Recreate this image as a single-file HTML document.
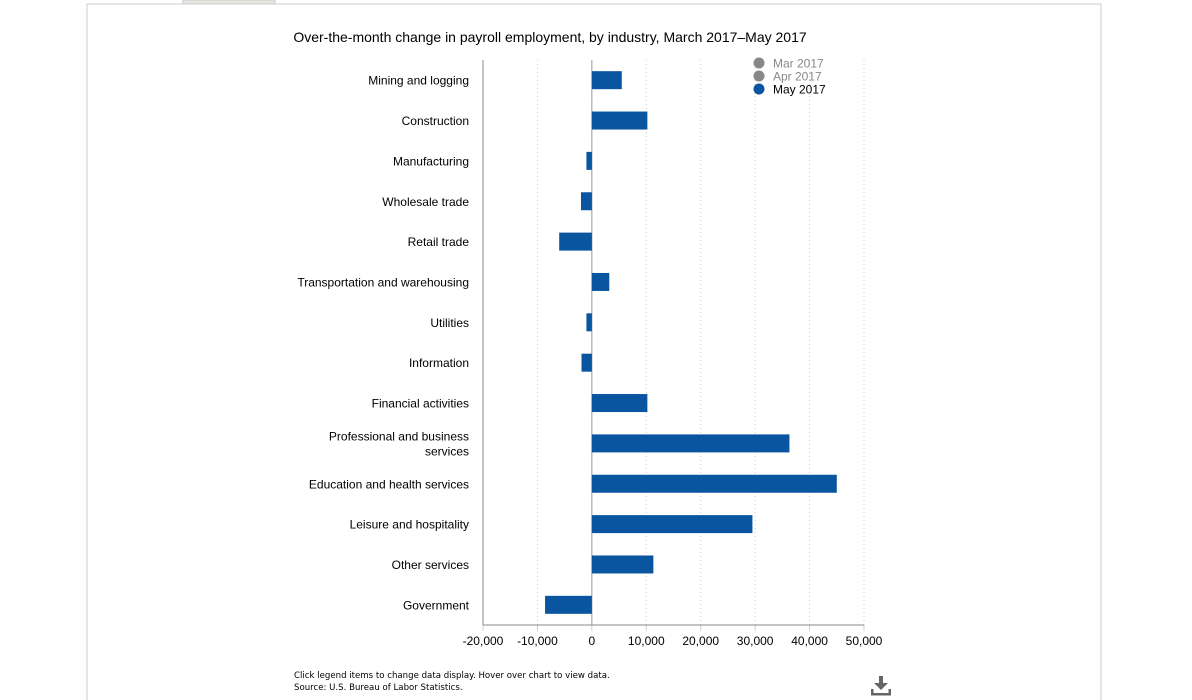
<!DOCTYPE html>
<html><head><meta charset="utf-8"><style>
body{margin:0;background:#fff;width:1192px;height:700px;overflow:hidden;font-family:"Liberation Sans",Arial,sans-serif;}
svg{position:absolute;left:0;top:0}
</style></head><body>
<svg width="1192" height="700">
<rect x="87" y="4" width="1014" height="720" fill="none" stroke="#ccc" stroke-width="1"/>
<rect x="183" y="0" width="92" height="4" fill="#e3e8e1" stroke="#ccc"/>
<text x="550" y="42" text-anchor="middle" font-size="14" fill="#000">Over-the-month change in payroll employment, by industry, March 2017–May 2017</text>
<g id="grid"></g><g id="bars"></g><g id="labels"></g><g id="ticks"></g>
<g>
<g><circle cx="759" cy="63" r="5.5" fill="#888"/><text x="773" y="67.5" font-size="12" fill="#888">Mar 2017</text></g>
<g><circle cx="759" cy="76" r="5.5" fill="#888"/><text x="773" y="80.5" font-size="12" fill="#888">Apr 2017</text></g>
<g><circle cx="759" cy="89" r="5.5" fill="#0a55a0"/><text x="773" y="93.5" font-size="12" fill="#000">May 2017</text></g>
</g>
<text x="294" y="678" font-size="8.6" fill="#000" font-family="DejaVu Sans, sans-serif">Click legend items to change data display. Hover over chart to view data.</text>
<text x="294" y="690" font-size="8.6" fill="#000" font-family="DejaVu Sans, sans-serif">Source: U.S. Bureau of Labor Statistics.</text>
<g fill="#666">
<rect x="879" y="676" width="4" height="8"/><polygon points="874,683 888,683 881,690"/>
<rect x="871" y="693" width="20" height="2.5"/><rect x="871" y="689" width="2.5" height="6"/><rect x="888.5" y="689" width="2.5" height="6"/>
</g>
</svg>
<script>
const categories=["Mining and logging","Construction","Manufacturing","Wholesale trade","Retail trade","Transportation and warehousing","Utilities","Information","Financial activities","Professional and business|services","Education and health services","Leisure and hospitality","Other services","Government"];
const may2017=[5500,10200,-1000,-2000,-6000,3200,-1000,-1900,10200,36300,45000,29500,11300,-8600];
const tickValues=[-20000,-10000,0,10000,20000,30000,40000,50000];
const tickLabels=["-20,000","-10,000","0","10,000","20,000","30,000","40,000","50,000"];
const NS="http://www.w3.org/2000/svg";
const x0=483,x1=864,vmin=-20000,vmax=50000,plotTop=60,plotBottom=625;
const xs=v=>x0+(v-vmin)/(vmax-vmin)*(x1-x0);
const rowH=(plotBottom-plotTop)/categories.length;
const yc=i=>plotTop+rowH*(i+0.5);
function mk(tag,attrs,parent){const e=document.createElementNS(NS,tag);for(const k in attrs)e.setAttribute(k,attrs[k]);document.getElementById(parent).appendChild(e);return e;}
tickValues.forEach((v,i)=>{
  const x=xs(v);
  if(i>0){const g=mk('line',{x1:x,x2:x,y1:plotTop,y2:plotBottom,stroke:v===0?'#999':'#ccc','stroke-dasharray':v===0?'none':'1,3'},'grid');
  
  }
  const t=mk('line',{x1:x,x2:x,y1:plotBottom,y2:plotBottom+6,stroke:'#c0d0e0'},'ticks');
  
  
  const l=mk('text',{x:x,y:plotBottom+20,'text-anchor':'middle','font-size':12,fill:'#000'},'ticks');
  l.textContent=tickLabels[i];
  
  
});
const ax=mk('line',{x1:x0,x2:x0,y1:plotTop,y2:plotBottom,stroke:'#888'},'grid');


const bx=mk('line',{x1:x0,x2:x1,y1:plotBottom,y2:plotBottom,stroke:'#888'},'ticks');


categories.forEach((c,i)=>{
  const v=may2017[i],a=xs(0),b=xs(v);
  const r=mk('rect',{x:Math.min(a,b),y:yc(i)-9,width:Math.abs(b-a),height:18,fill:'#0a55a0'},'bars');
  
  
  const parts=c.split('|');
  parts.forEach((p,j)=>{
    const t=mk('text',{x:469,y:yc(i)+4.5+(j-(parts.length-1)/2)*15,'text-anchor':'end','font-size':12,fill:'#000'},'labels');
    t.textContent=p;
    
    
  });
});
</script>
</body></html>
